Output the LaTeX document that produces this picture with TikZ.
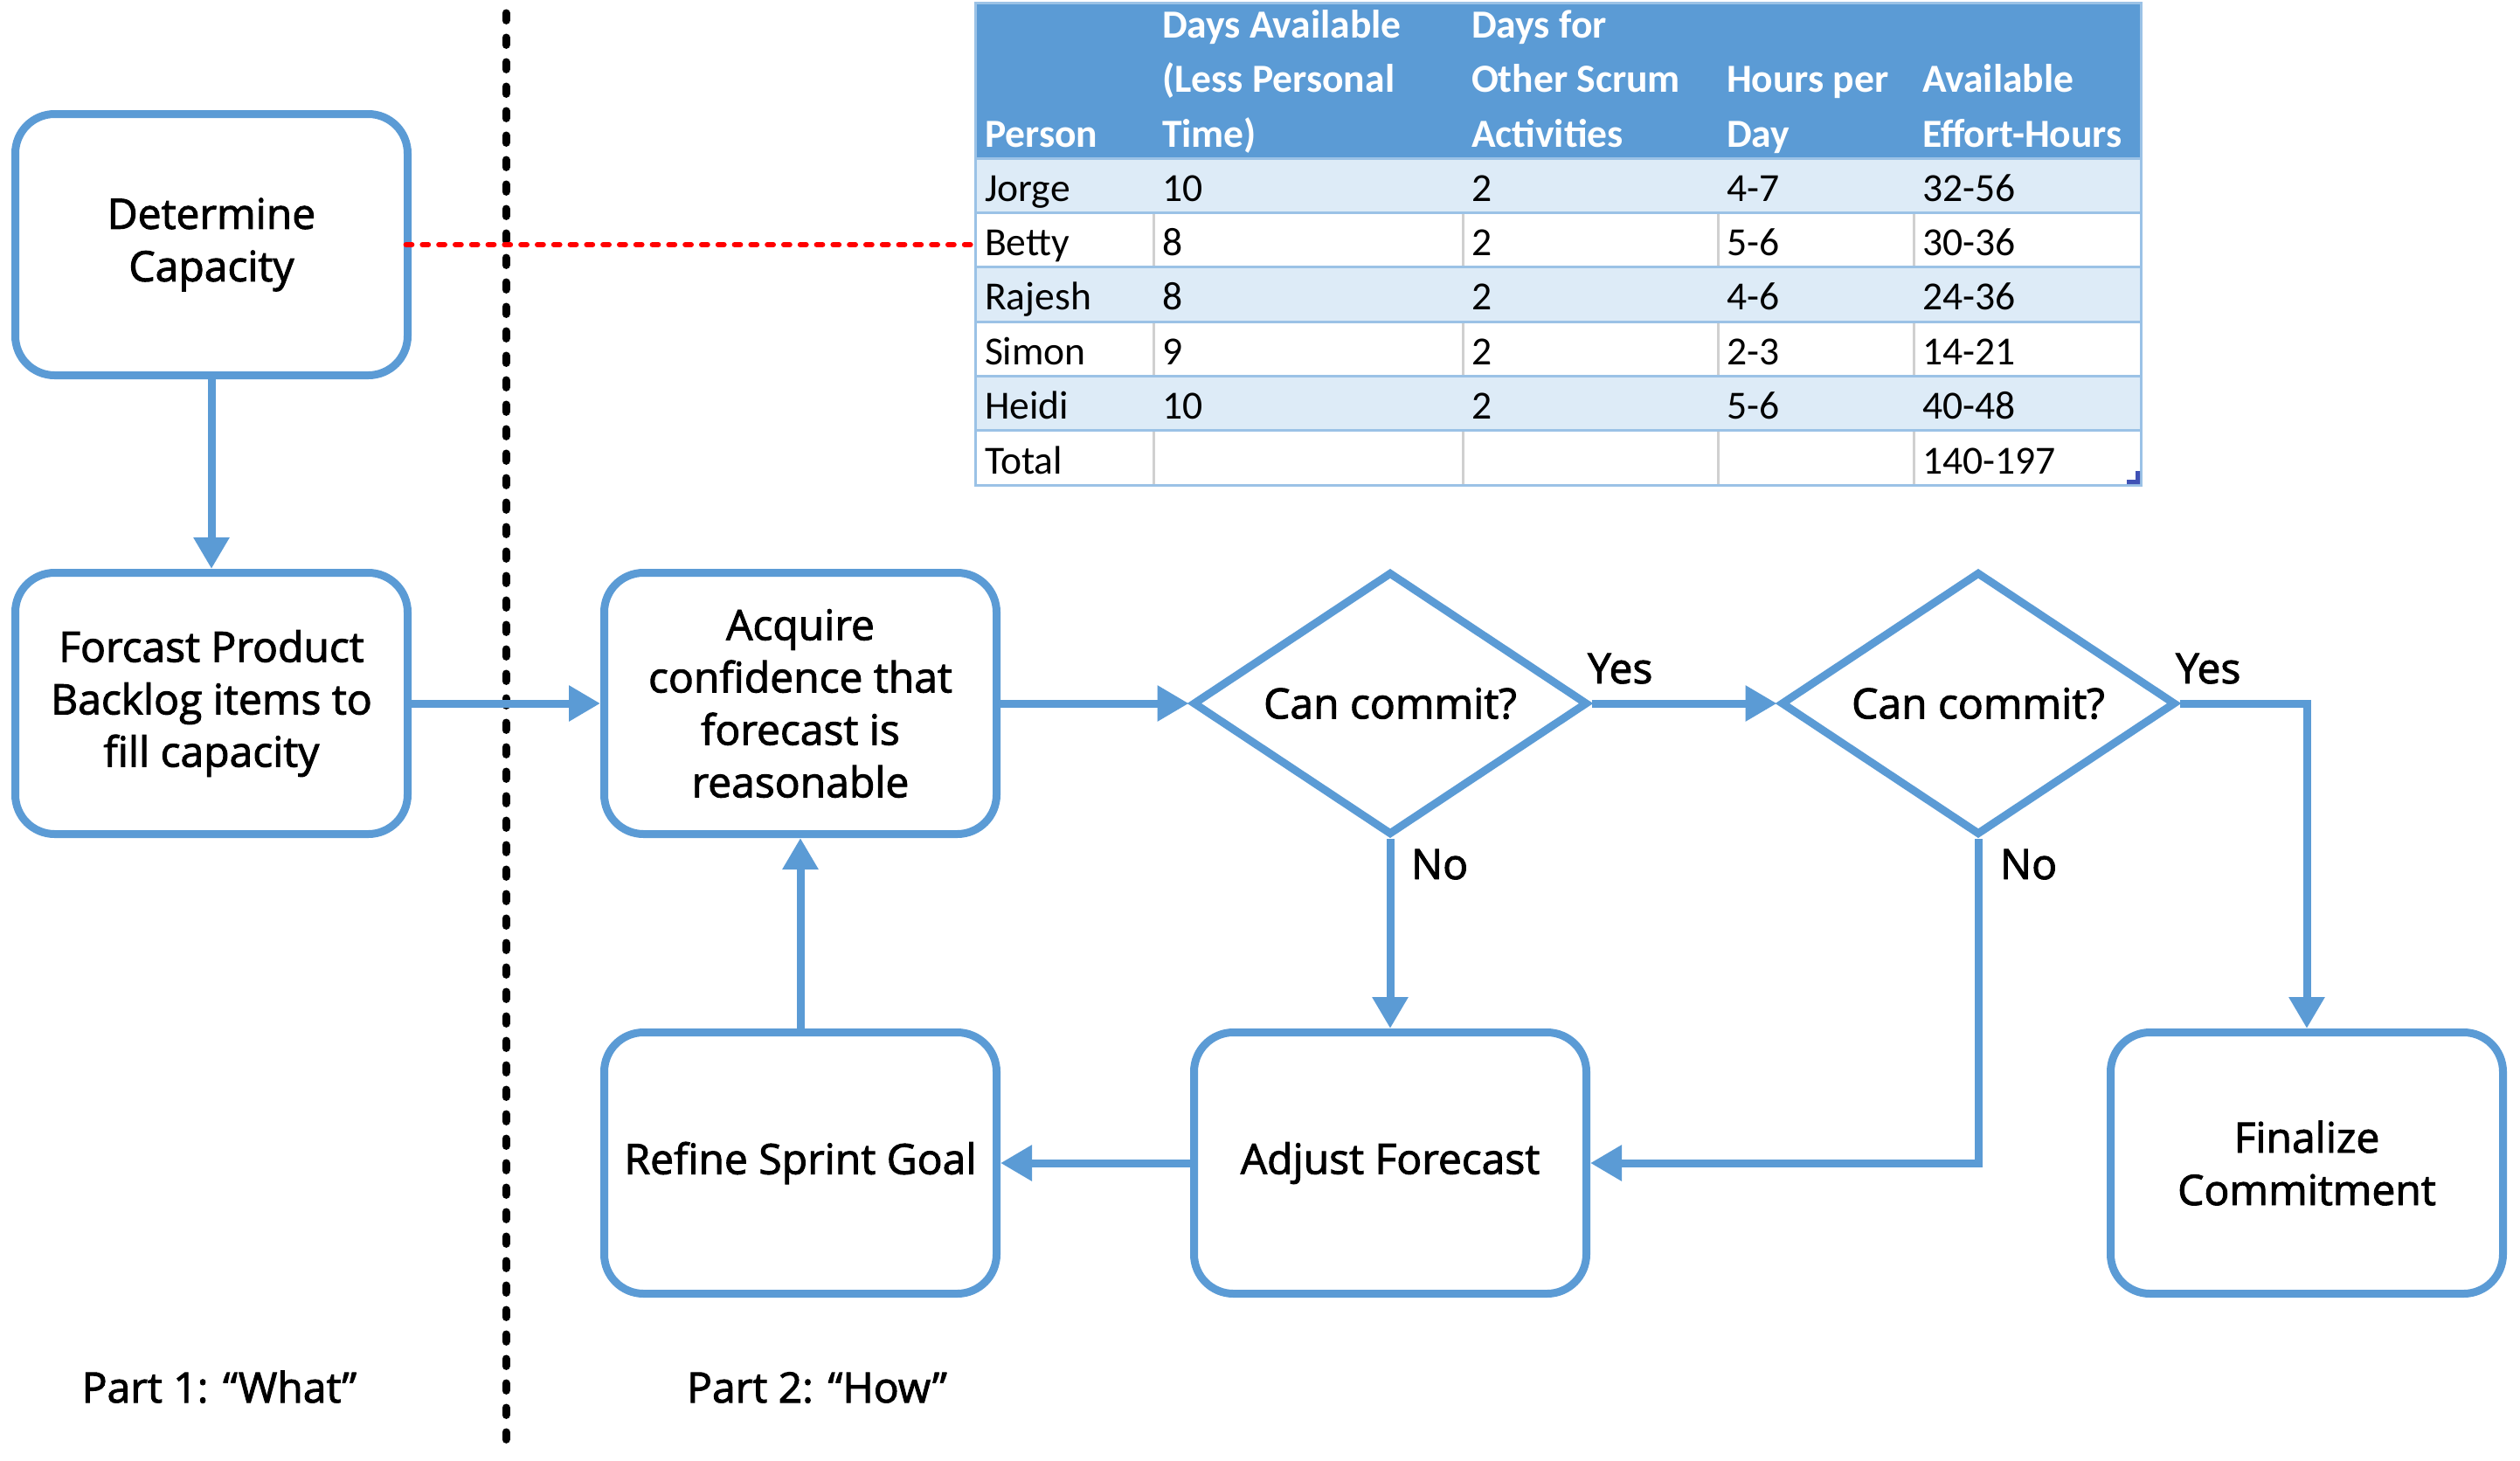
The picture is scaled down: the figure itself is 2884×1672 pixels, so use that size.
\documentclass[tikz,border=0pt]{standalone}
\usepackage{fontspec}
\setmainfont{Open Sans}[FakeBold=2]
\newfontfamily\tabfont{Carlito}
\usetikzlibrary{arrows.meta,shapes.geometric}
\definecolor{flowblue}{HTML}{5B9BD5}
\definecolor{hdrblue}{HTML}{5B9BD5}
\definecolor{bandblue}{HTML}{DDEBF7}
\definecolor{rulblue}{HTML}{9BC2E6}
\definecolor{gridgray}{HTML}{D0D0D0}
\definecolor{handleblue}{HTML}{3F51B5}
\definecolor{dotred}{HTML}{FF0000}
\begin{document}
\begin{tikzpicture}[x=0.25pt,y=-0.25pt,
  every node/.style={inner sep=0pt, outer sep=0pt},
  boxfont/.style={font=\fontsize{12}{15}\selectfont},
  procbox/.style={boxfont, draw=flowblue, line width=2.25pt, fill=white,
    rounded corners=11.25pt, minimum width=112.25pt, minimum height=74.75pt,
    align=center, outer sep=1.125pt},
  decbox/.style={boxfont, diamond, draw=flowblue, line width=2.25pt, fill=white,
    aspect=1.5, minimum width=113pt, minimum height=75.25pt, outer sep=1.125pt},
  conn/.style={draw=flowblue, line width=2.25pt,
    -{Triangle[length=9pt,width=9.75pt]}},
  lbl/.style={boxfont, anchor=base west},
  partlbl/.style={boxfont, anchor=base},
  tabhd/.style={font=\tabfont\bfseries\fontsize{11.4}{14}\selectfont, text=white, anchor=base west},
  tabtx/.style={font=\tabfont\fontsize{11.4}{14}\selectfont, anchor=base west},
  rowrule/.style={draw=rulblue, line width=0.75pt},
  colrule/.style={draw=gridgray, line width=0.75pt},
  reddots/.style={draw=dotred, line width=1.5pt, line cap=round, dash pattern=on 1.7pt off 3pt},
  divider/.style={draw=black, line width=2.25pt, line cap=round, dash pattern=on 2.1pt off 4.9pt}
]
\useasboundingbox (0,0) rectangle (2884,1672);
\fill[white] (0,0) rectangle (2884,1672);

% ---------------- table ----------------
\fill[white] (1116,3) rectangle (2450,555);
\fill[hdrblue] (1116,3) rectangle (2450,181);
\foreach \ya/\yb in {181/243, 305/368, 430/492}
  \fill[bandblue] (1116,\ya) rectangle (2450,\yb);
\foreach \ya/\yb in {243/305, 368/430, 492/555}
  \foreach \xx in {1320,1674,1966,2190}
    \draw[colrule] (\xx,\ya) -- (\xx,\yb);
\foreach \yy in {181,243,305,368,430,492,555}
  \draw[rowrule] (1116,\yy) -- (2450,\yy);
\draw[rowrule] (1116,3) rectangle (2450,555);
\fill[handleblue] (2449,539) -- (2449,554) -- (2434,554) -- (2434,549) -- (2444,549) -- (2444,539) -- cycle;

% header
\node[tabhd] (hP)  at (1127,168) {Person};
\node[tabhd] (hA1) at (1330,43)  {Days Available};
\node[tabhd] (hA2) at (1330,105) {(Less Personal};
\node[tabhd] (hA3) at (1330,168) {Time)};
\node[tabhd] (hB1) at (1684,43)  {Days for};
\node[tabhd] (hB2) at (1684,105) {Other Scrum};
\node[tabhd] (hB3) at (1684,168) {Activities};
\node[tabhd] (hC1) at (1976,105) {Hours per};
\node[tabhd] (hC2) at (1976,168) {Day};
\node[tabhd] (hD1) at (2200,105) {Available};
\node[tabhd] (hD2) at (2200,168) {Effort-Hours};

% body
\foreach \n/\a/\b/\c/\d [count=\i from 0] in
  {Jorge/10/2/4-7/32-56, Betty/8/2/5-6/30-36, Rajesh/8/2/4-6/24-36,
   Simon/9/2/2-3/14-21, Heidi/10/2/5-6/40-48}{
  \pgfmathsetmacro\yy{230+62.4*\i}
  \node[tabtx] (tp\i) at (1127,\yy) {\n};
  \node[tabtx] (ta\i) at (1330,\yy) {\a};
  \node[tabtx] (tb\i) at (1684,\yy) {\b};
  \node[tabtx] (tc\i) at (1976,\yy) {\c};
  \node[tabtx] (td\i) at (2200,\yy) {\d};
}
\node[tabtx] (tpT) at (1127,542) {Total};
\node[tabtx] (tdT) at (2200,542) {140-197};
\coordinate (tblBetty) at (1114,280);

% ---------------- divider ----------------
\coordinate (divTop) at (579,15);
\coordinate (divBot) at (579,1660);
\draw[divider] (divTop) -- (divBot);

% ---------------- flow ----------------
\node[procbox] (det) at (242,280) {Determine\\Capacity};
\node[procbox] (fc)  at (242,805) {Forcast Product\\Backlog items to\\fill capacity};
\node[procbox] (acq) at (916,805) {Acquire\\confidence that\\forecast is\\reasonable};
\node[decbox]  (d1)  at (1591,805) {Can commit?};
\node[decbox]  (d2)  at (2264,805) {Can commit?};
\node[procbox] (ref) at (916,1331) {Refine Sprint Goal};
\node[procbox] (adj) at (1591,1331) {Adjust Forecast};
\node[procbox] (fin) at (2640,1331) {Finalize\\Commitment};

\draw[reddots] ([xshift=-1.6pt]det.east) -- (tblBetty);

\draw[conn] (det.south) -- (fc.north);
\draw[conn] (fc.east) -- (acq.west);
\draw[conn] (acq.east) -- (d1.west);
\draw[conn] (d1.east) -- (d2.west);
\draw[conn] (d2.east) -| (fin.north);
\draw[conn] (d1.south) -- (adj.north);
\draw[conn] (d2.south) |- (adj.east);
\draw[conn] (adj.west) -- (ref.east);
\draw[conn] (ref.north) -- (acq.south);

\node[lbl] (yes1) at (1817,782) {Yes};
\node[lbl] (yes2) at (2490,782) {Yes};
\node[lbl] (no1)  at (1615,1006) {No};
\node[lbl] (no2)  at (2289,1006) {No};

\node[partlbl] (part1) at (251,1605) {Part 1: “What”};
\node[partlbl] (part2) at (935,1605) {Part 2: “How”};
\end{tikzpicture}
\end{document}
